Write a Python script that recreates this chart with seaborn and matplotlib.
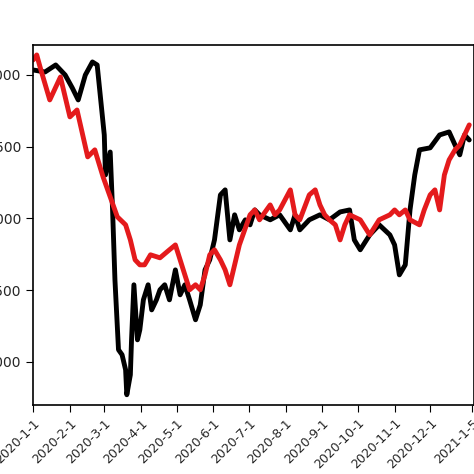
import matplotlib
matplotlib.use("Agg")
import matplotlib.pyplot as plt
import matplotlib.dates as mdates
import seaborn as sns
import pandas as pd
import numpy as np

black_days = [0,10,19,27,33,38,44,50,54,60,61,65,67,69,72,75,78,79,82,83,85,88,90,93,97,100,104,107,111,115,120,124,128,132,137,141,145,149,153,158,162,166,170,174,179,183,187,191,200,208,217,221,225,233,242,250,259,267,271,276,284,292,301,305,309,314,318,322,326,335,343,351,356,360,364,368]
black_vals = [3035,3021,3070,3000,2910,2826,3000,3091,3070,2582,2303,2463,2059,1571,1084,1049,944,770,909,1153,1537,1153,1223,1432,1537,1362,1432,1502,1537,1432,1641,1467,1537,1432,1293,1397,1641,1711,1850,2164,2199,1850,2025,1920,1990,1955,2059,2025,1990,2025,1920,2025,1920,1990,2025,1990,2045,2059,1850,1781,1885,1955,1885,1815,1606,1676,2059,2303,2478,2492,2582,2603,2512,2443,2582,2547]
red_days = [0,3,6,14,23,31,37,46,52,59,71,78,82,86,90,94,99,107,115,120,124,128,132,137,141,145,149,153,158,162,166,170,174,183,187,191,200,204,208,217,221,225,233,238,242,246,250,255,259,263,267,276,284,292,301,305,309,314,318,326,330,335,339,343,347,351,356,360,364,368]
red_vals = [3105,3140,3050,2826,2986,2708,2756,2429,2478,2289,2011,1955,1850,1711,1676,1676,1746,1725,1781,1815,1711,1606,1502,1537,1502,1606,1746,1781,1711,1641,1537,1676,1815,2025,2059,1990,2094,2025,2059,2199,2025,1990,2164,2199,2094,2025,1990,1955,1850,1955,2025,1990,1885,1990,2025,2059,2025,2059,1990,1955,2059,2164,2199,2059,2303,2408,2478,2512,2582,2652]
tick_labels = ["2020-1-1","2020-2-1","2020-3-1","2020-4-1","2020-5-1","2020-6-1","2020-7-1","2020-8-1","2020-9-1","2020-10-1","2020-11-1","2020-12-1","2021-1-5"]
y_ticks = [1000, 1500, 2000, 2500, 3000]
y_labels = ["1,000", "1,500", "2,000", "2,500", "3,000"]

start = pd.Timestamp("2020-01-01")
dfb = pd.DataFrame({"date": start + pd.to_timedelta(black_days, unit="D"), "v": black_vals})
dfr = pd.DataFrame({"date": start + pd.to_timedelta(red_days, unit="D"), "v": red_vals})

sns.set_style("white")
fig = plt.figure(figsize=(4.74, 4.74), dpi=100)
ax = fig.add_axes([0.07, 0.146, 0.93, 0.759])
sns.lineplot(data=dfb, x="date", y="v", color="black", lw=3.5, ax=ax)
sns.lineplot(data=dfr, x="date", y="v", color="#e41a1c", lw=3.5, ax=ax)

ticks = [pd.Timestamp(t) for t in ["2020-01-01","2020-02-01","2020-03-01","2020-04-01","2020-05-01","2020-06-01","2020-07-01","2020-08-01","2020-09-01","2020-10-01","2020-11-01","2020-12-01","2021-01-05"]]
ax.set_xticks(ticks)
ax.set_xticklabels(tick_labels, rotation=45, ha="right", rotation_mode="anchor", fontsize=9)
ax.set_xlim(pd.Timestamp("2020-01-01"), pd.Timestamp("2021-01-07"))
ax.set_ylim(700, 3209)
ax.set_yticks(y_ticks)
ax.set_yticklabels(y_labels, fontsize=10)
ax.set_xlabel(""); ax.set_ylabel("")
for s in ["top", "right"]:
    ax.spines[s].set_visible(True)
for s in ax.spines.values():
    s.set_color("black"); s.set_linewidth(1.2)
ax.tick_params(axis="both", direction="out", length=5, color="black", left=True, bottom=True)
fig.savefig("out.png", dpi=100)
